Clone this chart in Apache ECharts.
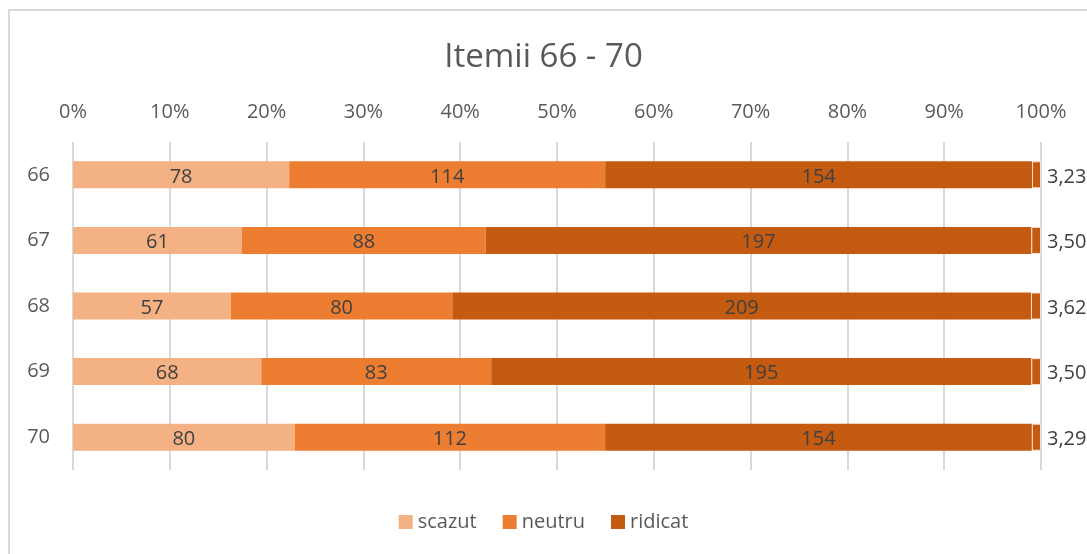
<!DOCTYPE html>
<html>
<head>
<meta charset="utf-8">
<script src="https://cdn.jsdelivr.net/npm/echarts@6/dist/echarts.min.js"></script>
<style>
html,body{margin:0;padding:0;background:#fff;}
#c{width:1087px;height:554px;}
</style>
</head>
<body>
<div id="c"></div>
<script>
var categories = ['66', '67', '68', '69', '70'];
var scazut = [78, 61, 57, 68, 80];
var neutru = [114, 88, 80, 83, 112];
var ridicat = [154, 197, 209, 195, 154];
var medie = [3.23, 3.50, 3.62, 3.50, 3.29];
var seriesNames = ['scazut', 'neutru', 'ridicat'];
var xTicks = [0, 10, 20, 30, 40, 50, 60, 70, 80, 90, 100];

var FONT = '"Open Sans", "Noto Sans", sans-serif';
var totals = categories.map(function (c, i) { return scazut[i] + neutru[i] + ridicat[i] + medie[i]; });
function pct(arr) {
  return arr.map(function (v, i) { return { value: v / totals[i] * 100, raw: v }; });
}
var colors = ['#F4B183', '#ED7D31', '#C55A11'];
var raws = [scazut, neutru, ridicat];

var series = raws.map(function (arr, k) {
  return {
    name: seriesNames[k],
    type: 'bar',
    stack: 'all',
    barWidth: 27,
    data: pct(arr),
    itemStyle: { color: colors[k] },
    label: {
      show: true,
      position: 'inside',
      color: '#404040',
      fontFamily: FONT,
      fontSize: 20,
      offset: [0, 2],
      formatter: function (p) { return p.data.raw; }
    }
  };
});
series.push({
  name: 'medie',
  type: 'bar',
  stack: 'all',
  barWidth: 27,
  data: pct(medie),
  itemStyle: { color: '#C55A11', borderColor: '#F2E0D3', borderWidth: 1 },
  label: {
    show: true,
    position: 'right',
    distance: 6,
    offset: [0, 2],
    color: '#404040',
    fontFamily: FONT,
    fontSize: 20,
    formatter: function (p) { return p.data.raw.toFixed(2).replace('.', ','); }
  }
});

var chart = echarts.init(document.getElementById('c'));
chart.setOption({
  animation: false,
  backgroundColor: '#fff',
  title: {
    text: 'Itemii 66 - 70',
    left: 'center',
    top: 36,
    textStyle: { color: '#595959', fontFamily: FONT, fontSize: 33, fontWeight: 'normal' }
  },
  legend: {
    data: seriesNames,
    bottom: 17,
    left: 'center',
    itemWidth: 14,
    itemHeight: 14,
    itemGap: 26,
    icon: 'rect',
    textStyle: { color: '#595959', fontFamily: FONT, fontSize: 20 }
  },
  grid: { left: 73, width: 968, top: 142, height: 328 },
  xAxis: {
    type: 'value',
    position: 'top',
    min: 0,
    max: 100,
    interval: 10,
    axisLine: { show: false },
    axisTick: { show: false },
    axisLabel: {
      color: '#595959',
      fontFamily: FONT,
      fontSize: 20,
      margin: 20,
      formatter: function (v) { return xTicks.indexOf(v) >= 0 ? v + '%' : ''; }
    },
    splitLine: { lineStyle: { color: '#D9D9D9', width: 2 } }
  },
  yAxis: {
    type: 'category',
    inverse: true,
    data: categories,
    axisLine: { show: false },
    axisTick: { show: false },
    axisLabel: { color: '#595959', fontFamily: FONT, fontSize: 20, margin: 23 }
  },
  graphic: [{
    type: 'polyline',
    shape: { points: [[9, 560], [9, 10], [1090, 10]] },
    style: { stroke: '#D9D9D9', lineWidth: 2, fill: null },
    silent: true
  }],
  series: series
});
</script>
</body>
</html>
